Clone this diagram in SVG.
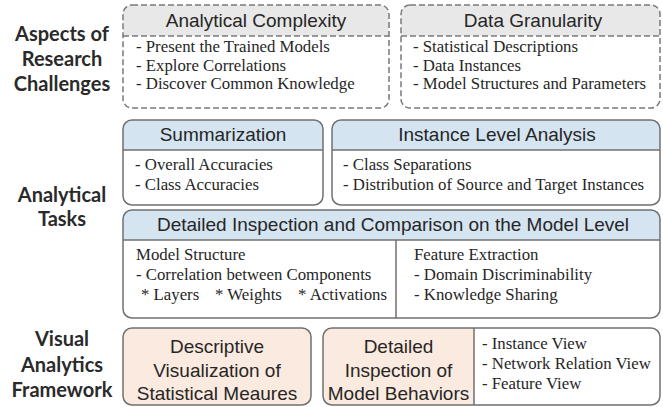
<svg xmlns="http://www.w3.org/2000/svg" width="663" height="407" viewBox="0 0 663 407">
<style>
.lbl{font-family:Lato,"Open Sans","DejaVu Sans",sans-serif;font-weight:700;font-size:20px;fill:#2a2a2a;text-anchor:middle}
.hd{font-family:"Liberation Sans",Arial,sans-serif;font-size:19px;fill:#262626;text-anchor:middle}
.bd{font-family:"Liberation Serif","Times New Roman",serif;font-size:16.8px;fill:#262626}
.box{fill:none;stroke:#707070;stroke-width:1.5}
.dash{fill:none;stroke:#7a7a7a;stroke-width:1.5;stroke-dasharray:6 3}
.gray{fill:#e8e8e8}
.blue{fill:#d5e4f1}
.peach{fill:#fbeadf}
.white{fill:#ffffff}
.div{stroke:#707070;stroke-width:1.5;fill:none}
.ddiv{stroke:#7a7a7a;stroke-width:1.5;stroke-dasharray:6 3;fill:none}
</style>
<rect width="663" height="407" fill="#ffffff"/>
<g id="labels">
<text class="lbl" x="62" y="41">Aspects of</text>
<text class="lbl" x="62" y="66">Research</text>
<text class="lbl" x="62" y="91">Challenges</text>
<text class="lbl" x="62" y="202">Analytical</text>
<text class="lbl" x="62" y="226">Tasks</text>
<text class="lbl" x="62" y="346">Visual</text>
<text class="lbl" x="62" y="372">Analytics</text>
<text class="lbl" x="62" y="397">Framework</text>
</g>
<g id="analytical-complexity">
<rect class="white" x="123" y="5" width="266" height="103" rx="9"/>
<path class="gray" d="M123,36 V14 A9,9 0 0 1 132,5 H380 A9,9 0 0 1 389,14 V36 Z"/>
<rect class="dash" x="123" y="5" width="266" height="103" rx="9"/>
<line class="ddiv" x1="123" y1="36" x2="389" y2="36"/>
<text class="hd" x="256" y="27">Analytical Complexity</text>
<text class="bd" x="136" y="52">- Present the Trained Models</text>
<text class="bd" x="136" y="70.5">- Explore Correlations</text>
<text class="bd" x="136" y="89">- Discover Common Knowledge</text>
</g>
<g id="data-granularity">
<rect class="white" x="401" y="5" width="259" height="103" rx="9"/>
<path class="gray" d="M401,36 V14 A9,9 0 0 1 410,5 H651 A9,9 0 0 1 660,14 V36 Z"/>
<rect class="dash" x="401" y="5" width="259" height="103" rx="9"/>
<line class="ddiv" x1="401" y1="36" x2="660" y2="36"/>
<text class="hd" x="533" y="27">Data Granularity</text>
<text class="bd" x="413" y="52">- Statistical Descriptions</text>
<text class="bd" x="413" y="70.5">- Data Instances</text>
<text class="bd" x="413" y="89">- Model Structures and Parameters</text>
</g>
<g id="summarization">
<rect class="white" x="123" y="120" width="200" height="85" rx="9"/>
<path class="blue" d="M123,150 V129 A9,9 0 0 1 132,120 H314 A9,9 0 0 1 323,129 V150 Z"/>
<rect class="box" x="123" y="120" width="200" height="85" rx="9"/>
<line class="div" x1="123" y1="150" x2="323" y2="150"/>
<text class="hd" x="223" y="141">Summarization</text>
<text class="bd" x="135" y="170">- Overall Accuracies</text>
<text class="bd" x="135" y="190">- Class Accuracies</text>
</g>
<g id="instance-level-analysis">
<rect class="white" x="332" y="120" width="328" height="85" rx="9"/>
<path class="blue" d="M332,150 V129 A9,9 0 0 1 341,120 H651 A9,9 0 0 1 660,129 V150 Z"/>
<rect class="box" x="332" y="120" width="328" height="85" rx="9"/>
<line class="div" x1="332" y1="150" x2="660" y2="150"/>
<text class="hd" x="497" y="141">Instance Level Analysis</text>
<text class="bd" x="343" y="170">- Class Separations</text>
<text class="bd" x="343" y="190">- Distribution of Source and Target Instances</text>
</g>
<g id="detailed-inspection">
<rect class="white" x="123" y="210" width="537" height="108" rx="9"/>
<path class="blue" d="M123,240 V219 A9,9 0 0 1 132,210 H651 A9,9 0 0 1 660,219 V240 Z"/>
<rect class="box" x="123" y="210" width="537" height="108" rx="9"/>
<line class="div" x1="123" y1="240" x2="660" y2="240"/>
<line class="div" x1="396" y1="240" x2="396" y2="318"/>
<text class="hd" x="393" y="231">Detailed Inspection and Comparison on the Model Level</text>
<text class="bd" x="136" y="260">Model Structure</text>
<text class="bd" x="136" y="280">- Correlation between Components</text>
<text class="bd" y="300"><tspan x="141">* Layers</tspan><tspan x="215">* Weights</tspan><tspan x="298">* Activations</tspan></text>
<text class="bd" x="414" y="260">Feature Extraction</text>
<text class="bd" x="414" y="280">- Domain Discriminability</text>
<text class="bd" x="414" y="300">- Knowledge Sharing</text>
</g>
<g id="descriptive-visualization">
<rect class="peach" x="123" y="328" width="188" height="77" rx="9"/>
<rect class="box" x="123" y="328" width="188" height="77" rx="9"/>
<text class="hd" x="217" y="353">Descriptive</text>
<text class="hd" x="217" y="377">Visualization of</text>
<text class="hd" x="217" y="400">Statistical Meaures</text>
</g>
<g id="detailed-inspection-behaviors">
<rect class="white" x="323" y="328" width="337" height="77" rx="9"/>
<path class="peach" d="M474,328 H332 A9,9 0 0 0 323,337 V396 A9,9 0 0 0 332,405 H474 Z"/>
<rect class="box" x="323" y="328" width="337" height="77" rx="9"/>
<line class="div" x1="474" y1="328" x2="474" y2="405"/>
<text class="hd" x="398.5" y="353">Detailed</text>
<text class="hd" x="398.5" y="377">Inspection of</text>
<text class="hd" x="398.5" y="400">Model Behaviors</text>
<text class="bd" x="482" y="349">- Instance View</text>
<text class="bd" x="482" y="369">- Network Relation View</text>
<text class="bd" x="482" y="389">- Feature View</text>
</g>
<g id="connectors"/>
</svg>
